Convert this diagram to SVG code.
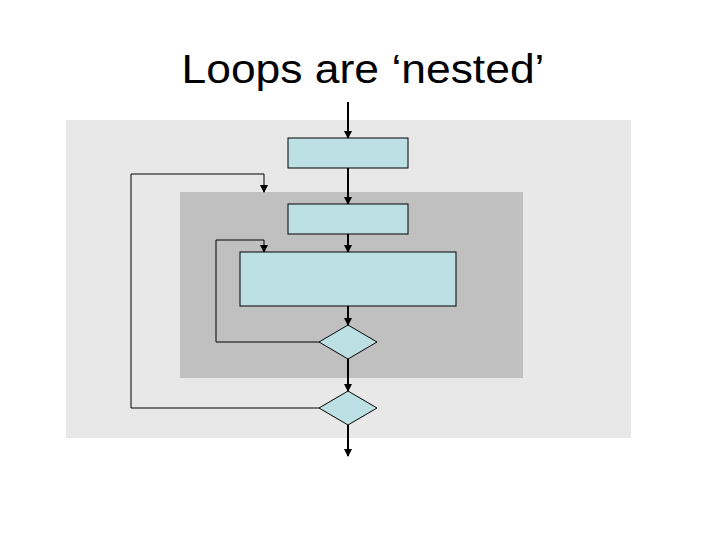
<svg xmlns="http://www.w3.org/2000/svg" width="720" height="540" viewBox="0 0 720 540">
<style>
.n{fill:#bce0e4;stroke:#000;stroke-width:1}
.c{fill:none;stroke:#000;stroke-width:1}
.m{fill:none;stroke:#000;stroke-width:2}
</style>
<defs><marker id="a" markerWidth="8" markerHeight="8" refX="7" refY="4" orient="auto" markerUnits="userSpaceOnUse"><path d="M0,0L8,4L0,8z" fill="#000"/></marker></defs>
<rect width="720" height="540" fill="#fff"/>
<text x="363" y="83" font-family="Liberation Sans, Arial, sans-serif" font-size="40" text-anchor="middle" textLength="363" lengthAdjust="spacingAndGlyphs">Loops are ‘nested’</text>
<rect x="66" y="120" width="565" height="318" fill="#e8e8e8"/>
<rect x="180" y="192" width="343" height="186" fill="#c0c0c0"/>
<g id="connectors">
<path class="m" d="M348,102V138" marker-end="url(#a)"/>
<path class="m" d="M348,168V204" marker-end="url(#a)"/>
<path class="m" d="M348,234V252" marker-end="url(#a)"/>
<path class="m" d="M348,306V325" marker-end="url(#a)"/>
<path class="m" d="M348,359V391" marker-end="url(#a)"/>
<path class="m" d="M348,425V456" marker-end="url(#a)"/>
<path class="c" d="M319,342H216V240H264V252" marker-end="url(#a)"/>
<path class="c" d="M319,408H131V174H264V192" marker-end="url(#a)"/>
</g>
<g id="box1"><rect class="n" x="288" y="138" width="120" height="30"/></g>
<g id="box2"><rect class="n" x="288" y="204" width="120" height="30"/></g>
<g id="box3"><rect class="n" x="240" y="252" width="216" height="54"/></g>
<g id="dec1"><path class="n" d="M348,325L377,342L348,359L319,342z"/></g>
<g id="dec2"><path class="n" d="M348,391L377,408L348,425L319,408z"/></g>
</svg>
